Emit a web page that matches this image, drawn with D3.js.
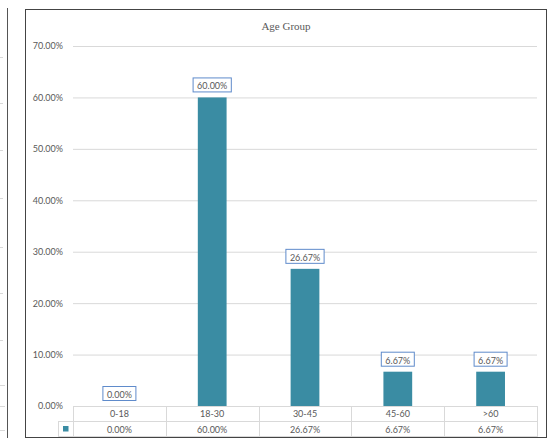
<!DOCTYPE html>
<html><head><meta charset="utf-8">
<script src="https://cdn.jsdelivr.net/npm/d3@7"></script>
<style>body{margin:0;background:#fff}svg{display:block}</style>
</head><body>
<svg id="c" width="557" height="442"></svg>
<script>
const categories = ["0-18","18-30","30-45","45-60",">60"];
const values = [0.0, 60.0, 26.67, 6.67, 6.67];
const yTicks = [0,10,20,30,40,50,60,70];
const title = "Age Group";

const svg = d3.select("#c");
const txt = "#595959", grid = "#D9D9D9", barColor = "#3A8CA3";
const font = "Lato, 'Open Sans', sans-serif";

// left remnant of neighbouring chart
svg.append("line").attr("x1",7.5).attr("x2",7.5).attr("y1",8).attr("y2",438).attr("stroke","#555").attr("stroke-width",1);
[57,103,150,198,247,293,340].forEach(y=>svg.append("line").attr("x1",0).attr("x2",3).attr("y1",y+0.5).attr("y2",y+0.5).attr("stroke",grid));
[385,406,430].forEach(y=>svg.append("line").attr("x1",0).attr("x2",5).attr("y1",y+0.5).attr("y2",y+0.5).attr("stroke",grid));

// frame
svg.append("rect").attr("x",25.5).attr("y",9.5).attr("width",521).attr("height",428).attr("fill","#fff").attr("stroke","#444").attr("stroke-width",1);

const x0 = 73, x1 = 537;
const x = d3.scaleBand().domain(categories).range([x0,x1]).paddingInner(0).paddingOuter(0);
const y = d3.scaleLinear().domain([0,70]).range([406,46]);

svg.append("text").attr("x",286).attr("y",30).attr("text-anchor","middle")
  .attr("font-family","'Liberation Serif', serif").attr("font-size",11).attr("fill",txt).text(title);

// gridlines
const yAxis = d3.axisLeft(y).tickValues(yTicks).tickSize(-(x1-x0)).tickFormat(d=>d.toFixed(2)+"%");
const ga = svg.append("g").attr("transform",`translate(${x0},0)`).call(yAxis);
ga.select(".domain").remove();
ga.selectAll(".tick line").attr("stroke",grid);
ga.selectAll(".tick text").attr("x",-10).attr("fill",txt).attr("font-family",font).attr("font-size",9);

// bars
const bw = x.bandwidth()*0.31;
svg.append("g").selectAll("rect").data(values).join("rect")
  .attr("x",(d,i)=>x(categories[i])+x.bandwidth()/2-bw/2)
  .attr("y",d=>y(d)).attr("width",bw).attr("height",d=>y(0)-y(d)).attr("fill",barColor);

// data labels
const lg = svg.append("g");
values.forEach((d,i)=>{
  const cx = x(categories[i])+x.bandwidth()/2;
  const t = lg.append("text").attr("x",cx).attr("y",y(d)-8).attr("text-anchor","middle")
    .attr("font-family",font).attr("font-size",9).attr("fill",txt).text(d.toFixed(2)+"%");
  const w = t.node().getComputedTextLength()+8;
  lg.insert("rect","text").attr("x",cx-w/2).attr("y",y(d)-19.5).attr("width",w).attr("height",14)
    .attr("fill","#fff").attr("stroke","#5F8BCB").attr("stroke-width",1);
});

// data table
const tg = svg.append("g");
const rTop = 406, rMid = 421.5, rBot = 437;
tg.append("line").attr("x1",x0).attr("x2",x1).attr("y1",rTop+0.5).attr("y2",rTop+0.5).attr("stroke",grid);
tg.append("line").attr("x1",58).attr("x2",x1).attr("y1",rMid).attr("y2",rMid).attr("stroke",grid);
tg.append("line").attr("x1",58).attr("x2",x1).attr("y1",rBot-0.5).attr("y2",rBot-0.5).attr("stroke",grid);
tg.append("line").attr("x1",58.5).attr("x2",58.5).attr("y1",rMid).attr("y2",rBot).attr("stroke",grid);
categories.concat(["_end"]).forEach((c,i)=>{
  const xx = Math.round(x0 + i*x.bandwidth())+0.5;
  tg.append("line").attr("x1",xx).attr("x2",xx).attr("y1",rTop).attr("y2",rBot).attr("stroke",grid);
});
categories.forEach((c,i)=>{
  const cx = x(c)+x.bandwidth()/2;
  tg.append("text").attr("x",cx).attr("y",417).attr("text-anchor","middle").attr("font-family",font).attr("font-size",9).attr("fill",txt).text(c);
  tg.append("text").attr("x",cx).attr("y",432.5).attr("text-anchor","middle").attr("font-family",font).attr("font-size",9).attr("fill",txt).text(values[i].toFixed(2)+"%");
});
tg.append("rect").attr("x",63).attr("y",426).attr("width",5.5).attr("height",5.5).attr("fill",barColor);
</script>
</body></html>
